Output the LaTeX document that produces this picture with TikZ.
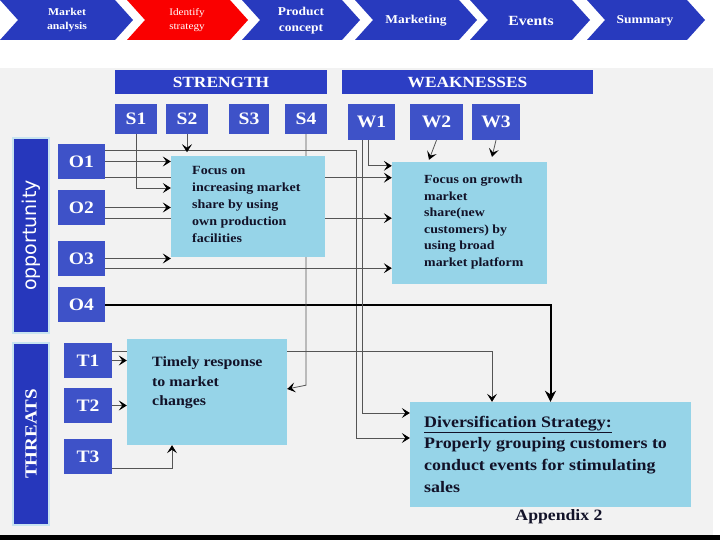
\documentclass[tikz,border=0pt]{standalone}
\usepackage{fontspec}
\setmainfont{Liberation Serif}[FakeStretch=1.12]
\newfontfamily\oppfont{DejaVu Sans}
\usetikzlibrary{arrows.meta,calc}
\definecolor{chevblue}{RGB}{40,58,190}
\definecolor{chevred}{RGB}{250,0,0}
\definecolor{hdrblue}{RGB}{44,62,196}
\definecolor{boxblue}{RGB}{62,82,200}
\definecolor{barblue}{RGB}{38,55,188}
\definecolor{barrim}{RGB}{200,228,240}
\definecolor{lightbox}{RGB}{150,212,232}
\definecolor{bggray}{RGB}{242,242,242}
\definecolor{linegray}{RGB}{85,85,85}
\definecolor{txtdark}{RGB}{18,18,40}
\pgfdeclarelayer{back}
\pgfdeclarelayer{lines}
\pgfsetlayers{back,lines,main}
\tikzset{
  conn/.style={draw=linegray, line width=0.8pt, -{Stealth[length=8pt,width=10pt,inset=3.5pt,color=black]}},
  bigarr/.style={draw=black, line width=2pt, -{Stealth[length=11pt,width=11pt]}}
}
\begin{document}
\begin{tikzpicture}[x=1pt,y=-1pt,
  lab/.style={fill=boxblue, text=white, font=\bfseries\fontsize{17.5}{17.5}\selectfont, inner sep=0},
  hdr/.style={fill=hdrblue, text=white, font=\bfseries\fontsize{15.5}{16}\selectfont, inner sep=0},
  bar/.style={fill=barblue, draw=barrim, line width=1.5pt, text=white, inner sep=0, rotate=90},
  lbox/.style={fill=lightbox, inner sep=0},
  btxt/.style={anchor=west, align=left, text=txtdark, inner sep=0},
  chev/.style={text=white, align=center, inner sep=0}
]
\useasboundingbox (0,0) rectangle (720,540);
\begin{pgfonlayer}{back}
  \fill[white] (0,0) rectangle (720,540);
  \fill[bggray] (0,68) rectangle (713,535);
  \fill[black] (0,535) rectangle (720,540);
  \foreach \a/\b/\c in {0/133/chevblue,127/248/chevred,242/360/chevblue,355/477/chevblue,470/590/chevblue,587/705/chevblue}
    \fill[\c] (\a,0) -- (\b-18,0) -- (\b,20) -- (\b-18,40) -- (\a,40) -- (\a+18,20) -- cycle;
\end{pgfonlayer}

% chevron labels
\node[chev, font=\bfseries\fontsize{10.5}{14}\selectfont] (c1) at (67,20) {Market\\analysis};
\node[chev, font=\fontsize{10}{14}\selectfont] (c2) at (187,20) {Identify\\strategy};
\node[chev, font=\bfseries\fontsize{12}{16}\selectfont] (c3) at (301,21) {Product\\concept};
\node[chev, font=\bfseries\fontsize{12}{14}\selectfont] (c4) at (416,21) {Marketing};
\node[chev, font=\bfseries\fontsize{14}{14}\selectfont] (c5) at (531,21) {Events};
\node[chev, font=\bfseries\fontsize{12}{14}\selectfont] (c6) at (645,21) {Summary};

% headers
\node[hdr, minimum width=212, minimum height=24] (STR) at (221,82) {STRENGTH};
\node[hdr, minimum width=251, minimum height=24] (WEAK) at (467.5,82) {WEAKNESSES};

% S and W boxes
\node[lab, minimum width=42, minimum height=30] (S1) at (136,119) {S1};
\node[lab, minimum width=42, minimum height=30] (S2) at (187,119) {S2};
\node[lab, minimum width=40, minimum height=30] (S3) at (249,119) {S3};
\node[lab, minimum width=42, minimum height=30] (S4) at (306,119) {S4};
\node[lab, minimum width=47, minimum height=36] (W1) at (371.5,122) {W1};
\node[lab, minimum width=53, minimum height=36] (W2) at (436.5,122) {W2};
\node[lab, minimum width=48, minimum height=36] (W3) at (496,122) {W3};

% side bars
\node[bar, minimum width=195, minimum height=36, font=\oppfont\fontsize{19}{19}\selectfont] (OPP) at (31,235.5) {opportunity};
\node[bar, minimum width=182, minimum height=36, font=\bfseries\fontsize{17}{17}\selectfont] (THR) at (31,434) {THREATS};

% O and T boxes
\node[lab, minimum width=47, minimum height=35] (O1) at (81.5,161.5) {O1};
\node[lab, minimum width=47, minimum height=35] (O2) at (81.5,207.5) {O2};
\node[lab, minimum width=47, minimum height=35] (O3) at (81.5,258.5) {O3};
\node[lab, minimum width=47, minimum height=35] (O4) at (81.5,304.5) {O4};
\node[lab, minimum width=48, minimum height=35] (T1) at (88,360.5) {T1};
\node[lab, minimum width=48, minimum height=35] (T2) at (88,405.5) {T2};
\node[lab, minimum width=48, minimum height=35] (T3) at (88,456.5) {T3};

% strategy boxes
\node[lbox, minimum width=154, minimum height=101] (B1) at (248,206.5) {};
\node[btxt, font=\bfseries\fontsize{12.5}{17}\selectfont] (B1t) at (192,204)
  {Focus on\\increasing market\\share by using\\own production\\facilities};
\node[lbox, minimum width=155, minimum height=122] (B2) at (469.5,223) {};
\node[btxt, font=\bfseries\fontsize{12.4}{16.6}\selectfont] (B2t) at (424,222)
  {Focus on growth\\market\\share(new\\customers) by\\using broad\\market platform};
\node[lbox, minimum width=160, minimum height=106] (TR) at (207,392) {};
\node[btxt, font=\bfseries\fontsize{14.2}{19.5}\selectfont] (TRt) at (152,383)
  {Timely response\\to market\\changes};
\node[lbox, minimum width=281, minimum height=105] (DIV) at (550.5,454.5) {};
\node[btxt, font=\bfseries\fontsize{16}{21.7}\selectfont] (DIVt) at (424,454)
  {\underline{Diversification Strategy:}\\Properly grouping customers to\\conduct events for stimulating\\sales};
\node[text=txtdark, font=\bfseries\fontsize{15.8}{16}\selectfont, inner sep=0] (APP) at (559,517) {Appendix 2};

% named points
\coordinate (busA) at (356,151);
\coordinate (o1t) at ([yshift=-7pt]O1.north east);
\coordinate (o1b) at ([yshift=1.5pt]O1.south east);
\coordinate (o2b) at ([yshift=7pt]O2.south east);
\coordinate (o3b) at ([yshift=8pt]O3.south east);
\coordinate (t1t) at ([yshift=-9pt]T1.north east);
\coordinate (t3b) at ([yshift=-11.5pt]T3.east);
\coordinate (d1) at ([yshift=16.5pt]DIV.west);
\coordinate (d2) at ([yshift=41.5pt]DIV.west);

\begin{pgfonlayer}{lines}
  % opportunities
  \draw[conn] (O1.east) -- (O1.east -| B1.west);
  \draw[conn] (o1t) -| (busA |- d1) -- (d1);
  \draw[conn] (o1b) -- (o1b -| B2.west);
  \draw[conn] (O2.east) -- (O2.east -| B1.west);
  \draw[conn] (o2b) -- (o2b -| B2.west);
  \draw[conn] (O3.east) -- (O3.east -| B1.west);
  \draw[conn] (o3b) -- (o3b -| B2.west);
  \draw[bigarr] (O4.east) -| (DIV.north);
  % strengths
  \draw[conn] (S1.south) |- ([yshift=18.5pt]B1.west);
  \draw[conn] (S2.south) -- ++(0,18);
  \draw[conn] (S4.south) -- ++(0,251) -- ([yshift=3pt]TR.east);
  % weaknesses
  \draw[conn] ([xshift=-9.5pt]W1.south) |- (d2);
  \draw[conn] ([xshift=-3.5pt]W1.south) |- ([yshift=-4pt]B2.north west);
  \draw[conn] (W2.south) -- ([xshift=-40.5pt,yshift=2pt]B2.north);
  \draw[conn] (W3.south) -- ([xshift=22.5pt,yshift=5pt]B2.north);
  % threats
  \draw[conn] (T1.east) -- (T1.east -| TR.west);
  \draw[conn] (t1t) -| ([xshift=-58.5pt]DIV.north);
  \draw[conn] (T2.east) -- (T2.east -| TR.west);
  \draw[conn] (t3b) -| ([xshift=-35pt]TR.south);
\end{pgfonlayer}
\end{tikzpicture}
\end{document}
